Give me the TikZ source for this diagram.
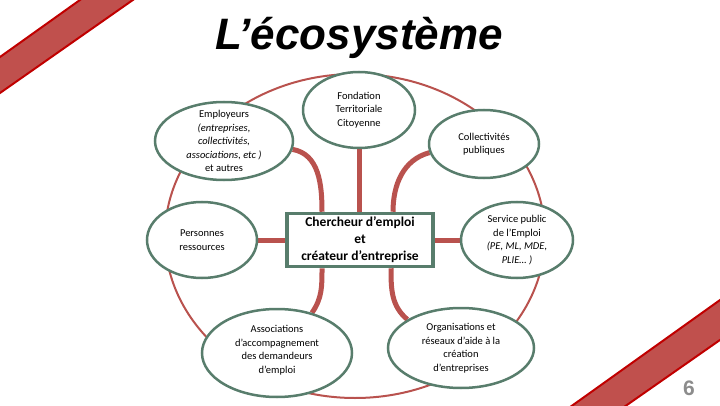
\documentclass[tikz,border=0pt]{standalone}
\usepackage{fontspec}
\setmainfont{Carlito}
\newfontfamily\titlefont{Liberation Sans}
\usetikzlibrary{shapes.geometric,backgrounds}
\definecolor{redline}{RGB}{185,82,78}
\definecolor{ellgreen}{RGB}{88,125,108}
\definecolor{bandfill}{RGB}{192,80,77}
\definecolor{banddraw}{RGB}{192,0,0}
\definecolor{pagegray}{RGB}{140,140,140}
\begin{document}
\begin{tikzpicture}[x=1pt,y=1pt,
  ell/.style={ellipse,draw=ellgreen,line width=2.5pt,fill=white,inner sep=0pt},
  boxnode/.style={rectangle,draw=ellgreen,line width=3.5pt,fill=white,inner sep=0pt},
  txt/.style={align=center,font=\fontsize{10.5}{13.5}\selectfont,inner sep=0pt},
  bigtxt/.style={align=center,font=\bfseries\fontsize{13.5}{17}\selectfont,inner sep=0pt},
  conn/.style={draw=redline,line width=5pt},
  ring/.style={ellipse,draw=redline,line width=2pt,inner sep=0pt},
  band/.style={fill=bandfill,draw=banddraw,line width=2pt}]
\useasboundingbox (0,0) rectangle (720,405);
\begin{scope}
  \clip (0,0) rectangle (720,405);
  \draw[band] (-30,326.6) -- (122,435) -- (175.7,435) -- (-30,291) -- cycle;
  \draw[band] (531,-30) -- (750,126.4) -- (750,86) -- (584,-30) -- cycle;
\end{scope}
% title
\node[font=\titlefont\bfseries\itshape\fontsize{44}{50}\selectfont,anchor=base] (title) at (359,355) {L’écosystème};
\node[font=\titlefont\bfseries\fontsize{21}{21}\selectfont,text=pagegray,anchor=base] (page) at (689,10) {6};
% nodes
\node[ell,minimum width=112pt,minimum height=76pt] (fond) at (359,295) {};
\node[ell,minimum width=110pt,minimum height=68pt] (coll) at (484,261) {};
\node[ell,minimum width=138pt,minimum height=78pt] (emp) at (224,264) {};
\node[ell,minimum width=110pt,minimum height=76pt] (pers) at (202,165) {};
\node[boxnode,minimum width=146pt,minimum height=53pt] (cher) at (360,165) {};
\node[ell,minimum width=112pt,minimum height=76pt] (serv) at (517,165) {};
\node[ell,minimum width=150pt,minimum height=88pt] (asso) at (277,52) {};
\node[ell,minimum width=146pt,minimum height=80pt] (orga) at (461,57) {};
% texts
\node[txt] (fondt) at (fond) {Fondation\\Territoriale\\Citoyenne};
\node[txt] (collt) at (coll) {Collectivités\\publiques};
\node[txt] (empt) at (emp) {Employeurs\\\textit{(entreprises,}\\\textit{collectivités,}\\\textit{associations, etc )}\\et autres};
\node[txt] (perst) at (pers) {Personnes\\ressources};
\node[bigtxt] (chert) at (cher) {Chercheur d’emploi\\et\\créateur d’entreprise};
\node[txt] (servt) at (serv) {Service public\\de l’Emploi\\\textit{(PE, ML, MDE,}\\\textit{PLIE… )}};
\node[txt] (assot) at ([yshift=3pt]asso.center) {Associations\\d’accompagnement\\des demandeurs\\d’emploi};
\node[txt] (orgat) at (orga) {Organisations et\\réseaux d’aide à la\\création\\d’entreprises};
% connectors behind
\coordinate (cA) at (322,0);
\coordinate (cB) at (393,0);
\coordinate (cC) at (391,0);
\begin{scope}[on background layer]
  \node[ring,minimum width=380pt,minimum height=324pt] (ring) at (355,169) {};
  \draw[conn] (emp.-7.5) to[out=-10,in=90] (cher.north -| cA);
  \draw[conn] (fond.south) -- (fond.south |- cher.north);
  \draw[conn] (coll.189) to[out=195,in=90] (cher.north -| cB);
  \draw[conn] (pers.east) -- (cher.west);
  \draw[conn] (cher.east) -- (serv.west);
  \draw[conn] (cher.south -| cA) to[out=-90,in=55] (asso.49);
  \draw[conn] (cher.south -| cC) to[out=-90,in=140] (orga.152);
\end{scope}
\end{tikzpicture}
\end{document}
